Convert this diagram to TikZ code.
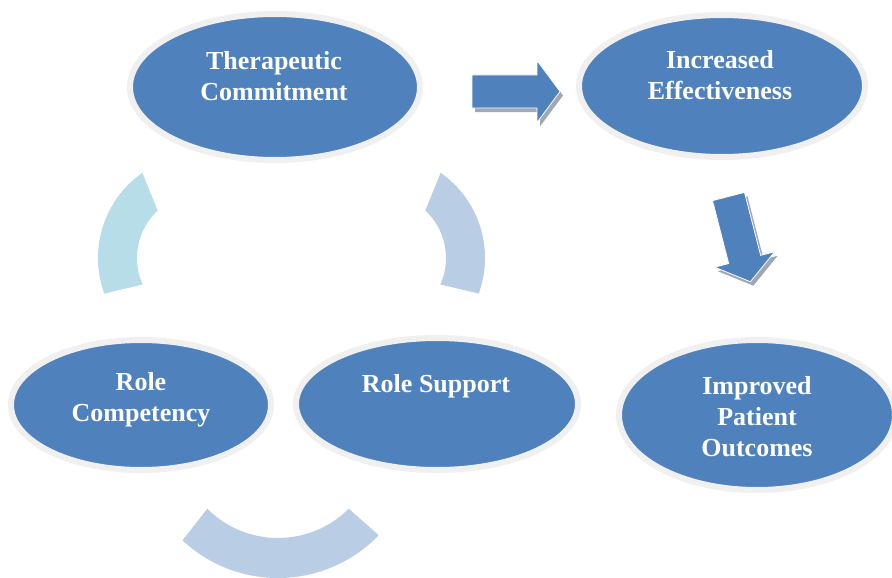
\documentclass[tikz,border=0pt]{standalone}
\usepackage{fontspec}
\setmainfont{Liberation Serif}
\usetikzlibrary{shapes.geometric}

\definecolor{nodeblue}{HTML}{4F81BD}
\definecolor{rimgray}{HTML}{F0F0F0}
\definecolor{arcteal}{HTML}{B7DDE8}
\definecolor{arcblue}{HTML}{B9CDE5}
\definecolor{shadowgray}{RGB}{160,168,184}

\tikzset{
  stage/.style={ellipse, fill=nodeblue, draw=rimgray, line width=6pt, inner sep=0pt},
  % multi-line labels: the base anchor sits on the last line
  stagetext/.style={text=white, font=\bfseries\fontsize{26}{31}\selectfont,
                    align=center, anchor=base, inner sep=0pt},
  pics/blockarrow/.style={code={
    \path[pic actions] (0,16.5) -- (65,16.5) -- (65,31) -- (88,0)
      -- (65,-31) -- (65,-16.5) -- (0,-16.5) -- cycle;
  }},
}

\begin{document}
\begin{tikzpicture}[x=1pt, y=1pt]
  \fill[white] (0,0) rectangle (892,-578);
  \useasboundingbox (0,0) rectangle (892,-578);

  % centres of the three cycle segments
  \coordinate (cl) at (202,-258);
  \coordinate (cr) at (381,-258);
  \coordinate (cb) at (278,-438);

  % cycle segments
  \fill[arcteal] ([shift={(125:104)}]cl) arc[start angle=125, end angle=200, radius=104]
    -- ([shift={(204:65)}]cl) arc[start angle=204, end angle=133, radius=65] -- cycle;
  \fill[arcblue] ([shift={(55:104)}]cr) arc[start angle=55, end angle=-20, radius=104]
    -- ([shift={(-24:65)}]cr) arc[start angle=-24, end angle=47, radius=65] -- cycle;
  \fill[arcblue] ([shift={(227:140)}]cb) arc[start angle=227, end angle=316, radius=140]
    -- ([shift={(315:100)}]cb) arc[start angle=315, end angle=225, radius=100] -- cycle;

  % stages
  \node[stage, minimum width=290, minimum height=146] (tc)  at (275,-87)  {};
  \node[stage, minimum width=286, minimum height=142] (ie)  at (722,-86)  {};
  \node[stage, minimum width=260, minimum height=130] (rc)  at (141,-405) {};
  \node[stage, minimum width=282, minimum height=132] (rs)  at (437,-404) {};
  \node[stage, minimum width=276, minimum height=150] (ipo) at (757,-415) {};

  \node[stagetext] (tc-label)  at (274,-100.5) {Therapeutic\\Commitment};
  \node[stagetext] (ie-label)  at (720,-99.5)  {Increased\\Effectiveness};
  \node[stagetext] (rc-label)  at (141,-421.5) {Role\\Competency};
  \node[stagetext] (rs-label)  at (436,-392)   {Role Support};
  \node[stagetext] (ipo-label) at (757,-456.5) {Improved\\Patient\\Outcomes};

  % block arrows with drop shadows
  \pic[fill=shadowgray] at (475,-95.5) {blockarrow};
  \pic[fill=nodeblue, draw=white, line width=0.8pt] at (472,-91.5) {blockarrow};
  \pic[fill=shadowgray, rotate=-75.6] at (731.5,-200.5) {blockarrow};
  \pic[fill=nodeblue, draw=white, line width=0.8pt, rotate=-75.6] at (728.5,-196.5) {blockarrow};
\end{tikzpicture}
\end{document}
